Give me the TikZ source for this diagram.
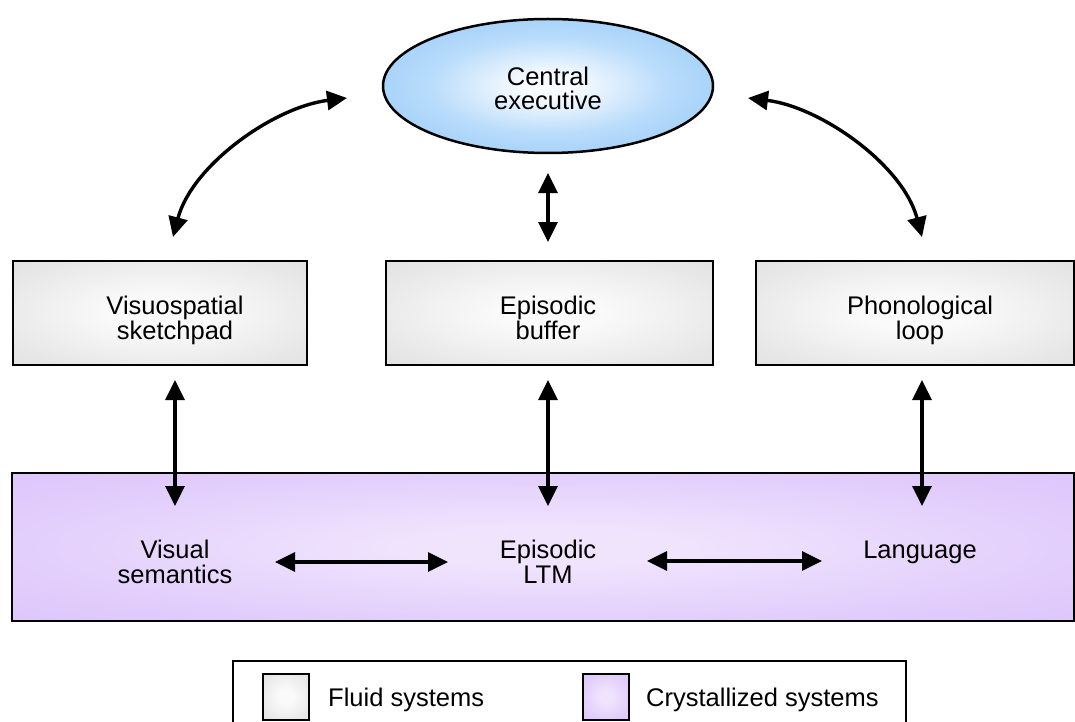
\documentclass[tikz,border=0pt]{standalone}
\usepackage{fontspec}
\setmainfont{Liberation Sans}
\usetikzlibrary{arrows.meta,shapes.geometric}
\definecolor{blueout}{RGB}{148,200,247}
\definecolor{bluemid}{RGB}{185,220,251}
\definecolor{bluein}{RGB}{248,251,255}
\definecolor{grayout}{RGB}{214,214,214}
\definecolor{graymid}{RGB}{232,232,232}
\definecolor{grayin}{RGB}{250,250,250}
\definecolor{purout}{RGB}{217,190,250}
\definecolor{purmid}{RGB}{226,205,252}
\definecolor{purin}{RGB}{240,228,253}
\pgfdeclareradialshading{cefill}{\pgfpoint{0bp}{0bp}}{color(0bp)=(bluein); color(4bp)=(bluein); color(18bp)=(bluemid); color(34bp)=(blueout); color(50bp)=(blueout)}
\pgfdeclareradialshading{fluidfill}{\pgfpoint{0bp}{0bp}}{color(0bp)=(grayin); color(8bp)=(grayin); color(28bp)=(graymid); color(50bp)=(grayout)}
\pgfdeclareradialshading{crystfill}{\pgfpoint{0bp}{0bp}}{color(0bp)=(purin); color(6bp)=(purin); color(26bp)=(purmid); color(46bp)=(purout); color(50bp)=(purout)}
\begin{document}
\begin{tikzpicture}[x=1pt,y=-1pt,
  lbl/.style={font=\fontsize{25.5}{24.5}\selectfont, align=center, inner sep=0pt, anchor=base},
  fluid/.style={draw, line width=2pt, shading=fluidfill, inner sep=0pt},
  cryst/.style={draw, line width=2pt, shading=crystfill, inner sep=0pt},
  link/.style={line width=3.4pt, {Triangle[length=20pt,width=19pt]}-{Triangle[length=20pt,width=19pt]}}
]
\useasboundingbox (0,0) rectangle (1075,722);
\begin{scope}
\clip (0,0) rectangle (1075,722);
% central executive
\node[ellipse, draw, line width=2.5pt, shading=cefill,
  minimum width=330pt, minimum height=134pt, inner sep=0pt] (ce) at (548,86) {};
\node[lbl] (cet) at (548,110) {Central\\executive};
% fluid boxes
\node[fluid, minimum width=294pt, minimum height=104pt, anchor=north west] (vs) at (12,260) {};
\node[fluid, minimum width=327pt, minimum height=104pt, anchor=north west] (eb) at (385,260) {};
\node[fluid, minimum width=318pt, minimum height=104pt, anchor=north west] (pl) at (755,260) {};
\node[lbl] (vst) at (175,339) {Visuospatial\\sketchpad};
\node[lbl] (ebt) at (548,339) {Episodic\\buffer};
\node[lbl] (plt) at (920,339) {Phonological\\loop};
% crystallized band
\node[cryst, minimum width=1062pt, minimum height=148pt, anchor=north west] (band) at (11,472) {};
\node[lbl] (vis) at (175,583) {Visual\\semantics};
\node[lbl] (ltm) at (548,583) {Episodic\\LTM};
\node[lbl] (lang) at (920,558) {Language};
% legend
\node[draw, line width=2pt, minimum width=673pt, minimum height=80pt, anchor=north west, inner sep=0pt] (legend) at (232,660) {};
\node[fluid, line width=1.5pt, minimum width=46pt, minimum height=46pt, anchor=north west] (fsw) at (262,673) {};
\node[lbl, anchor=base west] (fst) at (328,706) {Fluid systems};
\node[cryst, line width=1.5pt, minimum width=46pt, minimum height=46pt, anchor=north west] (csw) at (582,673) {};
\node[lbl, anchor=base west] (cst) at (646,706) {Crystallized systems};
\end{scope}
% connector end points
\coordinate (ceL) at (347,98);
\coordinate (vsT) at (173,237);
\coordinate (ceR) at (748,98);
\coordinate (plT) at (922,237);
\coordinate (ceB) at (548,173);
\coordinate (ebT) at (548,242);
\coordinate (vsB) at (175,380);
\coordinate (visT) at (175,506);
\coordinate (ebB) at (548,380);
\coordinate (ltmT) at (548,506);
\coordinate (plB) at (922,380);
\coordinate (langT) at (922,506);
\coordinate (visR) at (275,562);
\coordinate (ltmL) at (448,562);
\coordinate (ltmR) at (647,561);
\coordinate (langL) at (822,561);
% connectors
\draw[link] (vsT) .. controls (192,165) and (274,107) .. (ceL);
\draw[link] (plT) .. controls (903,165) and (821,107) .. (ceR);
\draw[link] (ceB) -- (ebT);
\draw[link] (vsB) -- (visT);
\draw[link] (ebB) -- (ltmT);
\draw[link] (plB) -- (langT);
\draw[link] (visR) -- (ltmL);
\draw[link] (ltmR) -- (langL);
\end{tikzpicture}
\end{document}
